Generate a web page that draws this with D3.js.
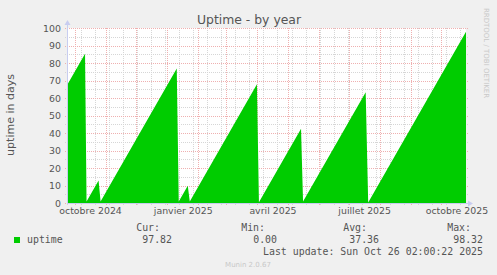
<!DOCTYPE html>
<html>
<head>
<meta charset="utf-8">
<script src="https://cdn.jsdelivr.net/npm/d3@7"></script>
<style>
  body { margin: 0; background: #f0f0f0; }
  text { font-family: "DejaVu Sans", sans-serif; }
  .mono { font-family: "DejaVu Sans Mono", monospace; }
</style>
</head>
<body>
<div id="chart"></div>
<script>
// uptime in days, vertices of the saw-tooth
var times = ["2024-09-23T00:00", "2024-10-11T00:00", "2024-10-12T12:00", "2024-10-24T12:00",
             "2024-10-26T12:00", "2025-01-10T12:00", "2025-01-12T12:00", "2025-01-21T12:00",
             "2025-01-23T12:00", "2025-03-31T12:00", "2025-04-02T12:00", "2025-05-14T12:00",
             "2025-05-16T12:00", "2025-07-18T00:00", "2025-07-20T12:00", "2025-10-26T02:00"];
var uptime = [67.3, 85.3, 0.8, 12.8,
              0.8, 76.8, 0.8, 9.8,
              0.8, 67.8, 0.5, 42.5,
              0.8, 63.3, 0.3, 97.82];

var yTicks = [0, 10, 20, 30, 40, 50, 60, 70, 80, 90, 100];
var yMinor = [5, 15, 25, 35, 45, 55, 65, 75, 85, 95];
var monthLabels = ["octobre 2024", "janvier 2025", "avril 2025", "juillet 2025", "octobre 2025"];
var labelDates = ["2024-10-16T00:00", "2025-01-16T12:00", "2025-04-16T00:00", "2025-07-16T12:00", "2025-10-16T12:00"];

var statNames = ["Cur:", "Min:", "Avg:", "Max:"];
var statValues = [97.82, 0.00, 37.36, 98.32];

var W = 497, H = 275;
var pL = 67, pR = 466, pT = 28, pB = 203;

var parse = d3.utcParse("%Y-%m-%dT%H:%M");
var data = times.map(function(t, i) { return {t: parse(t), v: uptime[i]}; });

var svg = d3.select("#chart").append("svg")
    .attr("width", W).attr("height", H)
    .style("display", "block")
    .style("background", "#f0f0f0");

var x = d3.scaleUtc()
    .domain([parse("2024-09-23T00:00"), parse("2025-10-26T02:00")])
    .range([pL, pR]);
var y = d3.scaleLinear().domain([0, 100]).range([pB, pT]);

// plot background
svg.append("rect")
    .attr("x", pL).attr("y", pT)
    .attr("width", pR - pL).attr("height", pB - pT)
    .attr("fill", "#fff");

// grid
var minorX = d3.utcMonday.every(2).range(x.domain()[0], x.domain()[1]);
var majorX = d3.utcMonth.range(x.domain()[0], x.domain()[1]);
var minorCol = "#d6d6d6", majorCol = "#efb0b0";

function snap(v) { return Math.round(v) + 0.5; }

svg.append("g").selectAll("line").data(yMinor).enter().append("line")
    .attr("x1", pL - 2).attr("x2", pR + 2)
    .attr("y1", function(d) { return snap(y(d)); })
    .attr("y2", function(d) { return snap(y(d)); })
    .attr("stroke", minorCol).attr("stroke-dasharray", "1,1");
svg.append("g").selectAll("line").data(minorX).enter().append("line")
    .attr("x1", function(d) { return snap(x(d)); })
    .attr("x2", function(d) { return snap(x(d)); })
    .attr("y1", pT).attr("y2", pB + 2)
    .attr("stroke", minorCol).attr("stroke-dasharray", "1,1");
svg.append("g").selectAll("line").data(yTicks).enter().append("line")
    .attr("x1", pL - 2).attr("x2", pR + 2)
    .attr("y1", function(d) { return snap(y(d)); })
    .attr("y2", function(d) { return snap(y(d)); })
    .attr("stroke", majorCol).attr("stroke-dasharray", "1,1");
svg.append("g").selectAll("line").data(majorX).enter().append("line")
    .attr("x1", function(d) { return snap(x(d)); })
    .attr("x2", function(d) { return snap(x(d)); })
    .attr("y1", pT).attr("y2", pB + 2)
    .attr("stroke", majorCol).attr("stroke-dasharray", "1,1");

// the area
svg.append("path")
    .datum(data)
    .attr("fill", "#00cc00")
    .attr("d", d3.area()
      .x(function(d) { return x(d.t); })
      .y0(y(0))
      .y1(function(d) { return y(d.v); }));

// axes lines + arrows
svg.append("line").attr("x1", pL).attr("x2", pR + 3)
    .attr("y1", pB + 0.5).attr("y2", pB + 0.5).attr("stroke", "#c8cdf0");
svg.append("line").attr("x1", pL + 0.5).attr("x2", pL + 0.5)
    .attr("y1", pB).attr("y2", pT - 4).attr("stroke", "#c8cdf0");
svg.append("path")
    .attr("d", "M" + (pR + 2) + "," + (pB - 2.5) + "L" + (pR + 7) + "," + (pB + 0.5) + "L" + (pR + 2) + "," + (pB + 3.5) + "Z")
    .attr("fill", "#c8cdf0");
svg.append("path")
    .attr("d", "M" + (pL - 2.5) + "," + (pT - 3) + "L" + (pL + 0.5) + "," + (pT - 8) + "L" + (pL + 3.5) + "," + (pT - 3) + "Z")
    .attr("fill", "#c8cdf0");

// y labels
var yAxis = svg.append("g")
    .attr("transform", "translate(" + (pL - 6) + ",0)")
    .call(d3.axisLeft(y).tickValues(yTicks).tickSize(0).tickPadding(0));
yAxis.select(".domain").remove();
yAxis.selectAll("text")
    .attr("font-family", "DejaVu Sans").attr("font-size", 9.4).attr("fill", "#555");

// x labels
var xAxis = svg.append("g")
    .attr("transform", "translate(0," + (pB + 4) + ")")
    .call(d3.axisBottom(x).tickValues(labelDates.map(parse))
      .tickFormat(function(d, i) { return monthLabels[i]; })
      .tickSize(0).tickPadding(0));
xAxis.select(".domain").remove();
xAxis.selectAll("text")
    .attr("font-family", "DejaVu Sans").attr("font-size", 9.4).attr("fill", "#555");

// title
svg.append("text")
    .attr("x", 249).attr("y", 24)
    .attr("text-anchor", "middle")
    .attr("font-size", 12.4).attr("fill", "#555")
    .text("Uptime - by year");

// y axis title
svg.append("text")
    .attr("transform", "translate(14,115) rotate(-90)")
    .attr("text-anchor", "middle")
    .attr("font-size", 11).attr("fill", "#555")
    .text("uptime in days");

// rrdtool credit
svg.append("text")
    .attr("transform", "translate(484,53) rotate(90)")
    .attr("text-anchor", "middle")
    .attr("font-size", 7).attr("fill", "#c8c8c8")
    .text("RRDTOOL / TOBI OETIKER");

// legend
svg.append("rect").attr("x", 14).attr("y", 237).attr("width", 6).attr("height", 6).attr("fill", "#00cc00");
svg.append("text").attr("class", "mono").attr("x", 27).attr("y", 243)
    .attr("font-size", 9.9).attr("fill", "#555").text("uptime");

var colRight = [172, 277, 379, 483];
statNames.forEach(function(n, i) {
  svg.append("text").attr("class", "mono")
      .attr("x", colRight[i] - 12).attr("y", 231)
      .attr("text-anchor", "end")
      .attr("font-size", 9.9).attr("fill", "#555").text(n);
  svg.append("text").attr("class", "mono")
      .attr("x", colRight[i]).attr("y", 243)
      .attr("text-anchor", "end")
      .attr("font-size", 9.9).attr("fill", "#555").text(d3.format(".2f")(statValues[i]));
});

svg.append("text").attr("class", "mono")
    .attr("x", 483).attr("y", 254.5)
    .attr("text-anchor", "end")
    .attr("font-size", 9.9).attr("fill", "#555")
    .text("Last update: Sun Oct 26 02:00:22 2025");

svg.append("text")
    .attr("x", 248).attr("y", 267)
    .attr("text-anchor", "middle")
    .attr("font-size", 7).attr("fill", "#c8c8c8")
    .text("Munin 2.0.67");
</script>
</body>
</html>
